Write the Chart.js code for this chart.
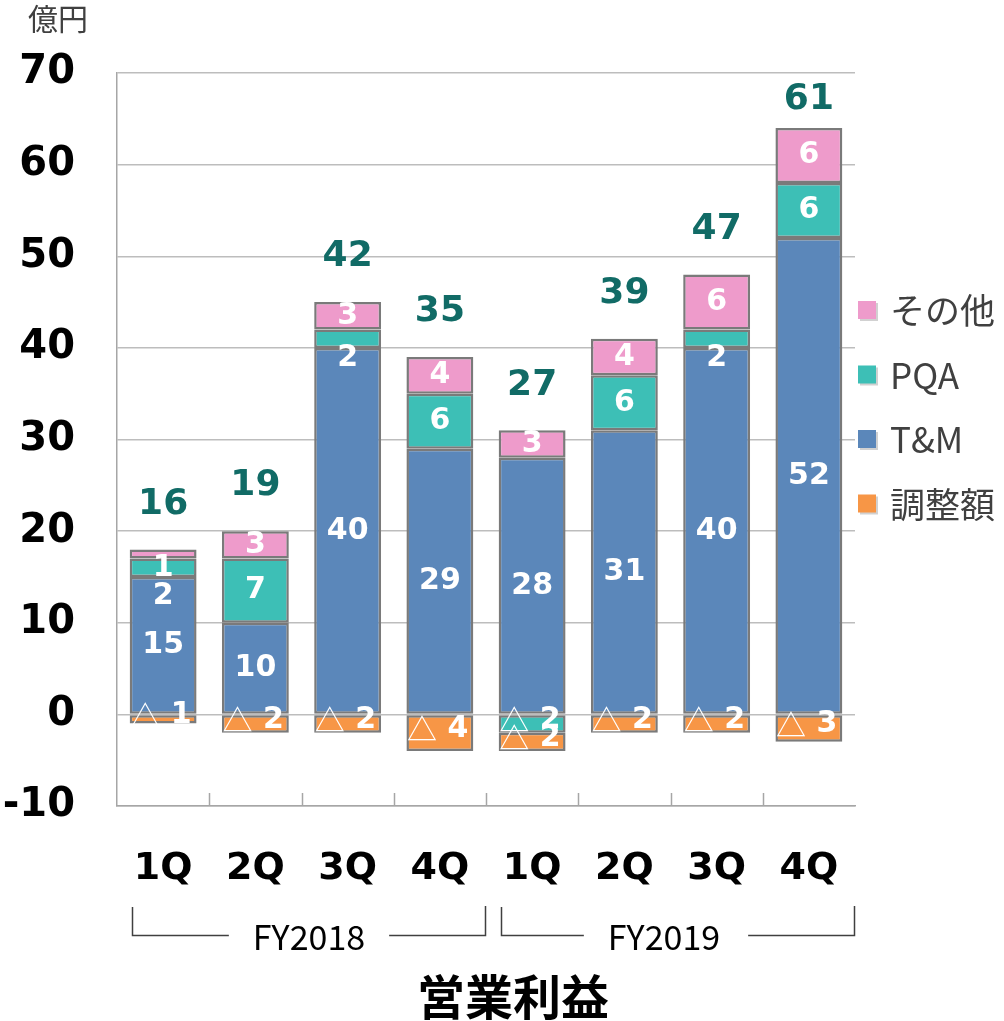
<!DOCTYPE html>
<html>
<head>
<meta charset="utf-8">
<script src="https://cdn.jsdelivr.net/npm/chart.js@4.4.1/dist/chart.umd.min.js"></script>
<style>
  body { margin: 0; background: #fff; }
  canvas { display: block; }
</style>
</head>
<body>
<canvas id="profitChart" width="1004" height="1021"></canvas>
<script>
const quarters = ['1Q', '2Q', '3Q', '4Q', '1Q', '2Q', '3Q', '4Q']
const fiscalYears = ['FY2018', 'FY2019']
const tmValues = [15, 10, 40, 29, 28, 31, 40, 52]
const pqaValues = [2, 7, 2, 6, -2, 6, 2, 6]
const otherValues = [1, 3, 3, 4, 3, 4, 6, 6]
const adjustValues = [-1, -2, -2, -4, -2, -2, -2, -3]
const totals = [16, 19, 42, 35, 27, 39, 47, 61]

const NUM_FONT = '"DejaVu Sans", Verdana, sans-serif'
const JP_FONT = '"Noto Sans CJK JP", "Noto Sans", sans-serif'
const BORDER = '#7a7a7a'

// segment values, totals above bars, brackets and the side legend
const labelPlugin = {
  id: 'profitLabels',
  afterDatasetsDraw(chart) {
    const ctx = chart.ctx
    const yScale = chart.scales.y
    ctx.save()
    ctx.textAlign = 'center'
    ctx.textBaseline = 'middle'
    ctx.fillStyle = '#fff'

    // positive parts from the top of the stack down: その他, PQA, T&M
    const lastY = {}
    ;[2, 1, 0].forEach(di => {
      const meta = chart.getDatasetMeta(di)
      const values = chart.data.datasets[di].data
      meta.data.forEach((el, i) => {
        const v = values[i]
        if (v <= 0) return
        const { x, y, base } = el.getProps(['x', 'y', 'base'], true)
        const top = Math.min(y, base)
        const bottom = Math.max(y, base)
        let cy = bottom - top >= 22 ? (top + bottom) / 2 : bottom + 10
        if (lastY[i] !== undefined && cy < lastY[i] + 28) cy = lastY[i] + 28
        lastY[i] = cy
        ctx.font = 'bold 30px ' + NUM_FONT
        ctx.fillText(String(v), x, cy)
      })
    })

    // negative parts are written with a triangle
    chart.data.datasets.forEach((ds, di) => {
      const meta = chart.getDatasetMeta(di)
      meta.data.forEach((el, i) => {
        const v = ds.data[i]
        if (v >= 0) return
        const { x, y, base } = el.getProps(['x', 'y', 'base'], true)
        const cy = (y + base) / 2 - 4
        ctx.font = '30px ' + JP_FONT
        ctx.fillText('△', x - 18, cy)
        ctx.font = 'bold 30px ' + NUM_FONT
        ctx.fillText(String(-v), x + 18, cy)
      })
    })

    // totals
    ctx.fillStyle = '#116b66'
    ctx.font = 'bold 36px ' + NUM_FONT
    totals.forEach((t, i) => {
      let stackTop = 0
      chart.data.datasets.forEach(ds => { if (ds.data[i] > 0) stackTop += ds.data[i] })
      const x = chart.scales.x.getPixelForValue(i)
      const cy = Math.max(yScale.getPixelForValue(stackTop) - 45, 100)
      ctx.fillText(String(t), x, cy)
    })
    ctx.restore()
  },
  afterDraw(chart) {
    const ctx = chart.ctx
    const area = chart.chartArea
    const xScale = chart.scales.x
    ctx.save()

    // small marks between categories on the bottom axis
    ctx.strokeStyle = '#a6a6a6'
    ctx.lineWidth = 1.5
    for (let i = 1; i < quarters.length; i++) {
      const bx = Math.round((xScale.getPixelForValue(i - 1) + xScale.getPixelForValue(i)) / 2) + 0.5
      ctx.beginPath()
      ctx.moveTo(bx, area.bottom - 13)
      ctx.lineTo(bx, area.bottom)
      ctx.stroke()
    }

    // unit
    ctx.fillStyle = '#404040'
    ctx.font = '30px ' + JP_FONT
    ctx.textAlign = 'left'
    ctx.textBaseline = 'middle'
    ctx.fillText('億円', 28, 19)

    // fiscal year brackets
    ctx.strokeStyle = '#404040'
    ctx.lineWidth = 1.5
    ctx.fillStyle = '#000'
    ctx.font = '34px ' + JP_FONT
    ctx.textAlign = 'center'
    const lineY = 935.5
    fiscalYears.forEach((fy, k) => {
      const left = Math.round(xScale.getPixelForValue(k * 4) - 31) + 0.5
      const right = Math.round(xScale.getPixelForValue(k * 4 + 3) + 45) + 0.5
      const mid = (left + right) / 2 - k * 14
      const half = ctx.measureText(fy).width / 2 + 24
      ctx.beginPath()
      ctx.moveTo(left, 907)
      ctx.lineTo(left, lineY)
      ctx.lineTo(mid - half, lineY)
      ctx.moveTo(mid + half + k * 4, lineY)
      ctx.lineTo(right, lineY)
      ctx.lineTo(right, 906)
      ctx.stroke()
      ctx.fillText(fy, mid, 937)
    })

    // axis title
    ctx.font = 'bold 48px ' + JP_FONT
    ctx.fillText('営業利益', 513, 997)

    // legend on the right, その他 first
    ctx.textAlign = 'left'
    ctx.font = '35px ' + JP_FONT
    const legendOrder = [2, 1, 0, 3]
    legendOrder.forEach((di, n) => {
      const ds = chart.data.datasets[di]
      const cy = area.top + 237 + n * 64.5
      const sx = area.right + 3
      ctx.fillStyle = 'rgba(0,0,0,0.18)'
      ctx.fillRect(sx + 2, cy - 7, 18, 18)
      ctx.fillStyle = ds.backgroundColor
      ctx.fillRect(sx, cy - 9, 18, 18)
      ctx.fillStyle = '#404040'
      ctx.fillText(ds.label, sx + 32, cy + 1)
    })
    ctx.restore()
  }
}

const data = {
  labels: quarters,
  datasets: [
    { label: 'T&M', data: tmValues, backgroundColor: '#5b87ba' },
    { label: 'PQA', data: pqaValues, backgroundColor: '#3dbfb6' },
    { label: 'その他', data: otherValues, backgroundColor: '#ee9bcb' },
    { label: '調整額', data: adjustValues, backgroundColor: '#f79646' }
  ].map(ds => ({
    ...ds,
    borderColor: BORDER,
    borderWidth: 2.5,
    borderSkipped: false,
    categoryPercentage: 1,
    barPercentage: 0.725
  }))
}

const options = {
  responsive: false,
  animation: false,
  events: [],
  layout: { padding: { top: 73, right: 149, left: 0, bottom: 0 } },
  plugins: {
    legend: { display: false },
    tooltip: { enabled: false }
  },
  scales: {
    x: {
      stacked: true,
      grid: { display: false, drawTicks: false },
      border: { display: true, color: '#a6a6a6', width: 1.5 },
      ticks: {
        color: '#000',
        padding: 40,
        maxRotation: 0,
        autoSkip: false,
        font: { family: NUM_FONT, size: 38, weight: 'bold' }
      },
      afterFit(scale) { scale.height = 215 }
    },
    y: {
      stacked: true,
      min: -10,
      max: 70,
      grid: { color: '#bdbdbd', lineWidth: 1.5, drawTicks: false },
      border: { display: true, color: '#a6a6a6', width: 1.5 },
      ticks: {
        stepSize: 10,
        color: '#000',
        padding: 42,
        font: { family: NUM_FONT, size: 40, weight: 'bold' }
      },
      afterFit(scale) { scale.width = 117 }
    }
  }
}

new Chart(document.getElementById('profitChart'), {
  type: 'bar',
  data: data,
  options: options,
  plugins: [labelPlugin]
})
</script>
</body>
</html>
